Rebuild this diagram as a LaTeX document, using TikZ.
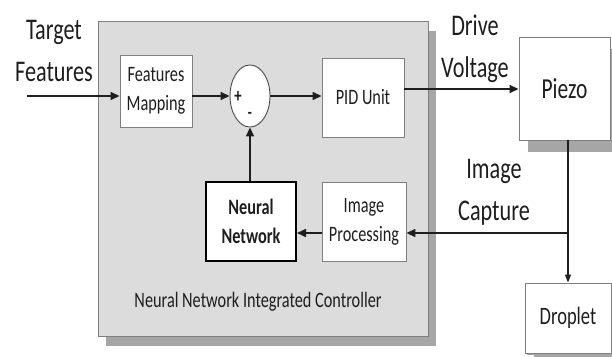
\documentclass[tikz,border=0pt]{standalone}
\usepackage{fontspec}
\setmainfont{Carlito}[FakeStretch=0.74]
\usetikzlibrary{arrows.meta,positioning,shadows,shapes.geometric}
\definecolor{panel}{HTML}{DCDCDC}
\definecolor{panelshade}{HTML}{A6A6A6}
\definecolor{edge}{HTML}{7F7F7F}
\definecolor{ink}{HTML}{1E1E1E}

\begin{document}
\begin{tikzpicture}[x=1pt,y=-1pt,
   every node/.style={text=ink},
   ctrl/.style={draw=edge, line width=1pt, fill=panel,
      drop shadow={shadow xshift=8pt, shadow yshift=-10pt, fill=panelshade, opacity=1}},
   block/.style={draw=edge, line width=0.9pt, fill=white, align=center, inner sep=2pt,
      font=\fontsize{22}{29}\selectfont},
   plant/.style={draw=edge, line width=0.9pt, fill=white, align=center,
      font=\fontsize{29}{40}\selectfont,
      drop shadow={shadow xshift=9pt, shadow yshift=-12pt, fill=panelshade, opacity=1}},
   sumnode/.style={ellipse, draw=ink!80, line width=0.9pt, fill=white, inner sep=0pt,
      minimum width=40pt, minimum height=62pt},
   tag/.style={align=center, font=\fontsize{30}{42}\selectfont},
   flow/.style={draw=ink, line width=1.6pt, -{Triangle[length=9pt,width=8pt]}},
   thinflow/.style={draw=ink, line width=1.1pt, -{Triangle[length=8pt,width=6pt]}}]
\useasboundingbox (0,0) rectangle (612,356);

\node[ctrl, minimum width=330pt, minimum height=315pt] (ctrl) at (263,178.5) {};
\node[font=\fontsize{22}{24}\selectfont] (ctrltitle) at (258,302) {Neural Network Integrated Controller};

\node[block, minimum width=72pt, minimum height=72pt] (map) at (156,91) {Features\\Mapping};
\node[sumnode] (sum) at (250,96) {};
\node[font=\fontsize{20}{20}\bfseries] (plus) at (238,97) {+};
\node[font=\fontsize{18}{18}\bfseries] (minus) at (250,115) {-};
\node[block, minimum width=82pt, minimum height=79pt] (pid) at (363,97.5) {PID Unit};
\node[block, minimum width=84pt, minimum height=79pt] (proc) at (364,221.5) {Image\\Processing};
\node[block, draw=black, line width=2pt, minimum width=90pt, minimum height=79pt,
   font=\fontsize{22}{29}\selectfont\bfseries] (nn) at (251,221.5) {Neural\\Network};

\node[plant, minimum width=91pt, minimum height=103pt] (piezo) at (564.5,88.5) {Piezo};
\node[plant, minimum width=86pt, minimum height=70pt, font=\fontsize{25}{28}\selectfont,
   drop shadow={shadow xshift=2pt, shadow yshift=-2pt, fill=panelshade, opacity=1}] (drop) at (568,318) {Droplet};

\node[tag] (target) at (54,51) {Target\\Features};
\node[tag] (drive) at (475,49) {Drive\\Voltage};
\node[tag] (capture) at (494,192) {Image\\Capture};

\coordinate (src) at (27,96);
\coordinate (tap) at (568,233);

\draw[flow] (src) -- (map.west |- sum);
\draw[flow] (map.east |- sum) -- (sum.west);
\draw[flow] (sum.east) -- (pid.west |- sum);
\draw[flow] (pid.east |- 0,89) -- (piezo.west |- 0,89);
\draw[thinflow] (piezo.south -| tap) -- (drop.north);
\draw[flow] (tap) -- (proc.east |- tap);
\draw[flow] (proc.west |- tap) -- (nn.east |- tap);
\draw[flow] (sum.south |- nn.north) -- (sum.south);
\end{tikzpicture}
\end{document}
